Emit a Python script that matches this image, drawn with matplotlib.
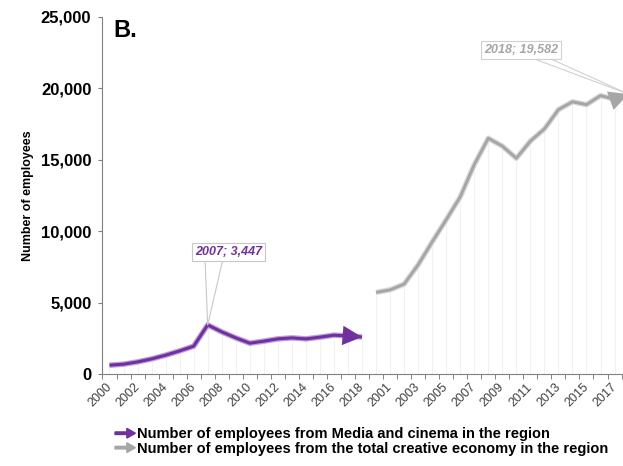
import numpy as np
import matplotlib
matplotlib.use("Agg")
import matplotlib.pyplot as plt
import matplotlib.patches as mpatches
import matplotlib.patheffects as pe
from matplotlib.legend_handler import HandlerPatch
from matplotlib.ticker import FuncFormatter

plt.rcParams['font.family'] = ['Liberation Sans', 'DejaVu Sans']

# Data
years = list(range(2000, 2019))
media = [630, 700, 860, 1070, 1330, 1630, 1960, 3447, 2960, 2540,
         2170, 2310, 2470, 2540, 2470, 2590, 2730, 2680, 2600]
total = [5720, 5900, 6300, 7650, 9250, 10800, 12400, 14650, 16500, 15950,
         15100, 16300, 17150, 18500, 19050, 18850, 19480, 19230, 19582]

media_label = "Number of employees from Media and cinema in the region"
total_label = "Number of employees from the total creative economy in the region"

purple = '#7030A0'
grey = '#A6A6A6'

n = len(years)
x_media = np.arange(n)
x_total = np.arange(n, 2 * n)
tick_labels = [str(y) for y in years] * 2

fig = plt.figure(figsize=(6.23, 4.66), dpi=100)
ax = fig.add_axes([0.1645, 0.197, 0.8557, 0.7672])

# faint drop lines under the curves
ax.vlines(x_media, 0, media, color='#F2F2F2', lw=0.8, zorder=1)
ax.vlines(x_total, 0, total, color='#F2F2F2', lw=0.8, zorder=1)

# curves with arrow heads at the end
for xs, ys, c, glow in [(x_media, media, purple, '#BFA0DA'),
                        (x_total, total, grey, '#DCDCDC')]:
    ax.plot(xs, ys, color=c, lw=2.2, solid_joinstyle='round',
            solid_capstyle='butt', zorder=3,
            path_effects=[pe.Stroke(linewidth=4.0, foreground=glow), pe.Normal()])
    ax.annotate('', xy=(xs[-1], ys[-1]), xytext=(xs[-2], ys[-2]),
                arrowprops=dict(arrowstyle='-|>,head_length=0.7,head_width=0.35',
                                color=c, lw=0, mutation_scale=20,
                                shrinkA=0, shrinkB=0), zorder=4,
                annotation_clip=False)


# callouts: text box with two leader lines to the point
def callout(text, xy, box_xy, color, edge, rel):
    box = ax.annotate(text, xy=xy, xytext=box_xy, textcoords='data',
                      ha='center', va='center', fontsize=9, fontweight='bold',
                      style='italic', color=color, zorder=6,
                      bbox=dict(boxstyle='square,pad=0.25', fc='white', ec=edge, lw=0.8),
                      annotation_clip=False)
    for r in rel:
        ax.annotate('', xy=xy, xytext=(r, 0), textcoords=box, zorder=5,
                    arrowprops=dict(arrowstyle='-', color=edge, lw=0.8,
                                    shrinkA=0, shrinkB=0),
                    annotation_clip=False)


i_peak = int(np.argmax(media))
callout(f"{years[i_peak]}; {media[i_peak]:,}", (x_media[i_peak], media[i_peak]),
        (8.48, 8530), purple, '#C8C8C8', (0.15, 0.42))
callout(f"{years[-1]}; {total[-1]:,}", (x_total[-1], total[-1]),
        (29.33, 22660), grey, '#D0D0D0', (0.58, 0.82))

# axes
ax.set_xlim(-0.5, 2 * n - 0.5)
ax.set_ylim(0, 25000)
ax.set_yticks(np.arange(0, 25001, 5000))
ax.yaxis.set_major_formatter(FuncFormatter(lambda v, p: f"{int(v):,}"))
for lab in ax.get_yticklabels():
    lab.set_fontweight('bold')
ax.tick_params(axis='y', labelsize=12, length=3, color='#808080', pad=5)

ax.set_xticks(np.arange(0, 2 * n, 2))
ax.set_xticklabels(tick_labels[::2], rotation=45, ha='right', va='center',
                   rotation_mode='anchor', fontsize=9, color='#404040')
ax.set_xticks(np.arange(-0.5, 2 * n, 1), minor=True)
ax.tick_params(axis='x', which='major', length=0, pad=8)
ax.tick_params(axis='x', which='minor', length=3.5, color='#707070')

for s in ['top', 'right']:
    ax.spines[s].set_visible(False)
ax.spines['left'].set_color('#808080')
ax.spines['bottom'].set_color('#808080')

ax.set_ylabel('Number of employees', fontsize=9, fontweight='bold')
ax.yaxis.set_label_coords(-0.128, 0.5)

fig.text(113 / 623, 1 - 36.7 / 466, 'B.', fontsize=17, fontweight='bold', va='baseline')


# legend with arrow icons
def make_arrow(legend, orig_handle, xdescent, ydescent, width, height, fontsize):
    return mpatches.FancyArrow(-xdescent, height / 2 - ydescent, width, 0,
                               width=height * 0.25, head_width=height * 0.95,
                               head_length=width * 0.42, length_includes_head=True)


handles = [mpatches.Patch(color=purple), mpatches.Patch(color=grey)]
fig.legend(handles, [media_label, total_label], loc='upper left',
           bbox_to_anchor=(0.1846, 0.083), frameon=False,
           prop=dict(weight='bold', size=10.5), handlelength=1.4,
           handleheight=0.7, handletextpad=0.08, labelspacing=0.03,
           borderaxespad=0, borderpad=0,
           handler_map={mpatches.Patch: HandlerPatch(patch_func=make_arrow)})

fig.savefig('out.png', dpi=100)
